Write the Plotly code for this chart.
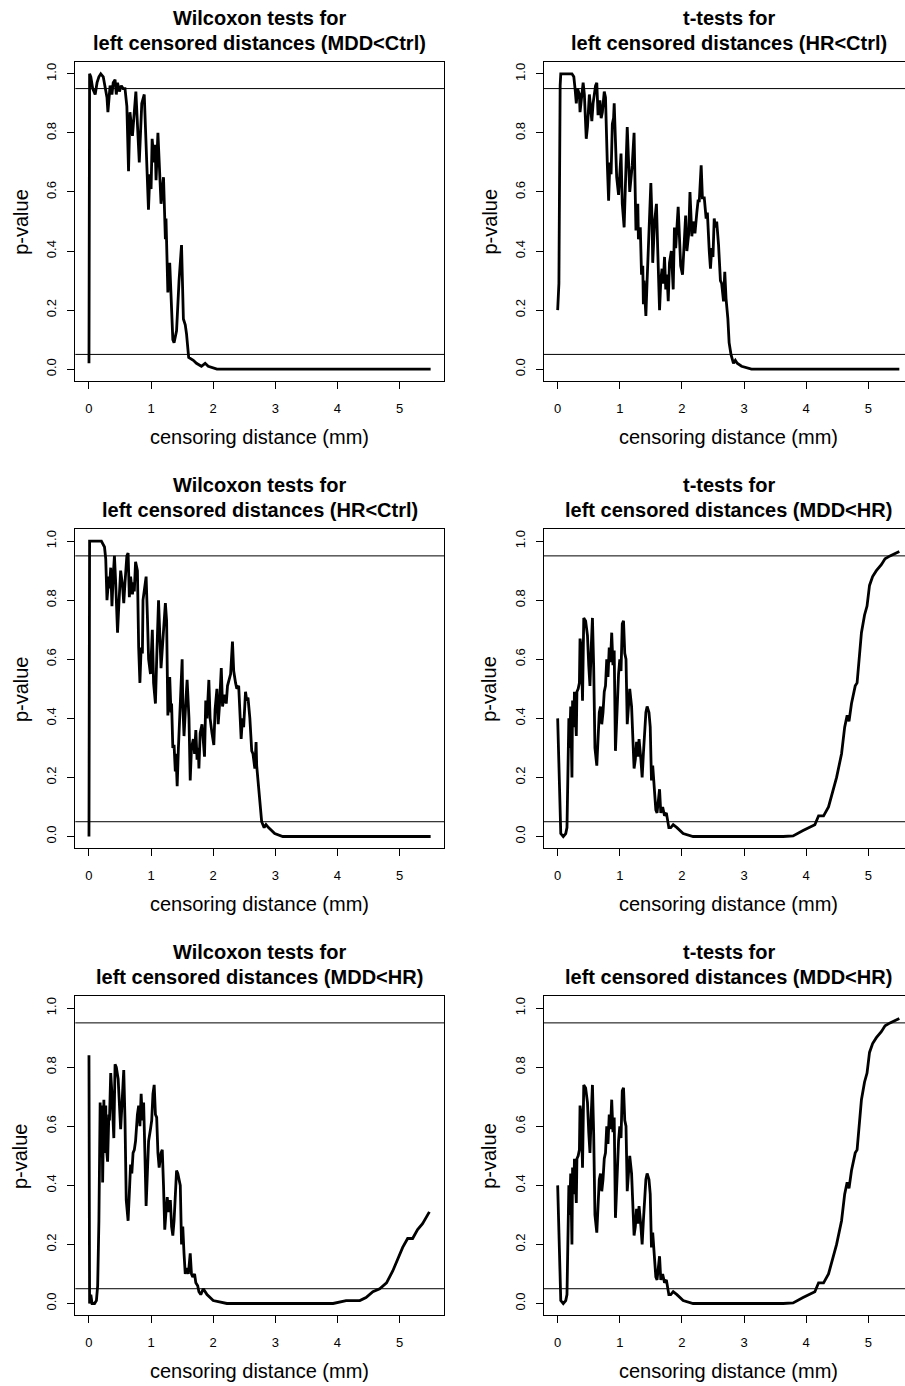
import plotly.graph_objects as go

# ---------------- data ----------------
# Panel A: Wilcoxon tests, MDD<Ctrl
wil_mdd_ctrl_x = [0.00, 0.01, 0.03, 0.06, 0.10, 0.13, 0.16, 0.19, 0.23, 0.27, 0.29, 0.305, 0.34, 0.37,
                  0.39, 0.42, 0.44, 0.46, 0.49, 0.52, 0.55, 0.58, 0.61, 0.637, 0.66, 0.70, 0.755, 0.81,
                  0.85, 0.89, 0.91, 0.93, 0.958, 0.98, 1.00, 1.017, 1.05, 1.065, 1.08, 1.11, 1.16, 1.20,
                  1.23, 1.24, 1.27, 1.30, 1.32, 1.35, 1.37, 1.41, 1.45, 1.49, 1.52, 1.55, 1.57, 1.605,
                  1.68, 1.73, 1.81, 1.87, 1.92, 2.06, 5.50]
wil_mdd_ctrl_y = [0.02, 1.00, 0.99, 0.95, 0.93, 0.97, 0.99, 1.00, 0.99, 0.95, 0.92, 0.87, 0.96, 0.93,
                  0.97, 0.98, 0.93, 0.97, 0.94, 0.96, 0.95, 0.95, 0.89, 0.67, 0.87, 0.79, 0.94, 0.70,
                  0.90, 0.93, 0.80, 0.66, 0.54, 0.66, 0.61, 0.78, 0.70, 0.76, 0.64, 0.80, 0.56, 0.65,
                  0.44, 0.51, 0.26, 0.36, 0.25, 0.10, 0.09, 0.13, 0.30, 0.42, 0.17, 0.15, 0.12, 0.04,
                  0.03, 0.02, 0.01, 0.02, 0.01, 0.00, 0.00]

# Panel B: t-tests, HR<Ctrl
t_hr_ctrl_x = [0.00, 0.02, 0.04, 0.05, 0.23, 0.26, 0.28, 0.30, 0.32, 0.35, 0.36, 0.41, 0.43, 0.46,
               0.48, 0.51, 0.55, 0.57, 0.61, 0.63, 0.65, 0.68, 0.70, 0.72, 0.75, 0.77, 0.80, 0.82,
               0.84, 0.86, 0.88, 0.90, 0.91, 0.93, 0.95, 0.98, 1.02, 1.04, 1.07, 1.09, 1.12, 1.16,
               1.20, 1.23, 1.26, 1.29, 1.30, 1.33, 1.35, 1.37, 1.38, 1.39, 1.42, 1.44, 1.46, 1.48,
               1.50, 1.52, 1.53, 1.56, 1.59, 1.61, 1.64, 1.66, 1.68, 1.70, 1.72, 1.74, 1.76, 1.78,
               1.80, 1.83, 1.85, 1.86, 1.88, 1.90, 1.94, 1.96, 1.98, 2.01, 2.04, 2.06, 2.08, 2.11,
               2.13, 2.16, 2.18, 2.21, 2.24, 2.26, 2.28, 2.31, 2.33, 2.36, 2.39, 2.41, 2.44, 2.46,
               2.48, 2.50, 2.52, 2.54, 2.56, 2.59, 2.62, 2.64, 2.67, 2.69, 2.71, 2.74, 2.76, 2.79,
               2.83, 2.86, 2.89, 2.96, 3.12, 5.50]
t_hr_ctrl_y = [0.20, 0.29, 0.96, 1.00, 1.00, 0.99, 0.95, 0.90, 0.95, 0.93, 0.87, 0.97, 0.93, 0.78,
               0.82, 0.93, 0.84, 0.90, 0.96, 0.97, 0.86, 0.91, 0.85, 0.87, 0.94, 0.92, 0.69, 0.57,
               0.70, 0.66, 0.83, 0.85, 0.90, 0.80, 0.65, 0.59, 0.73, 0.56, 0.48, 0.62, 0.82, 0.60,
               0.69, 0.80, 0.47, 0.56, 0.44, 0.48, 0.32, 0.35, 0.22, 0.30, 0.18, 0.30, 0.40, 0.52,
               0.63, 0.50, 0.36, 0.50, 0.56, 0.41, 0.20, 0.30, 0.34, 0.29, 0.38, 0.27, 0.32, 0.23,
               0.36, 0.40, 0.32, 0.27, 0.48, 0.41, 0.55, 0.42, 0.35, 0.32, 0.42, 0.52, 0.40, 0.46,
               0.60, 0.45, 0.50, 0.46, 0.53, 0.57, 0.57, 0.69, 0.58, 0.58, 0.51, 0.53, 0.40, 0.34,
               0.41, 0.38, 0.51, 0.48, 0.50, 0.42, 0.30, 0.29, 0.23, 0.33, 0.24, 0.17, 0.09, 0.05,
               0.02, 0.03, 0.02, 0.01, 0.00, 0.00]

# Panel C: Wilcoxon tests, HR<Ctrl
wil_hr_ctrl_x = [0.00, 0.01, 0.20, 0.25, 0.27, 0.29, 0.32, 0.33, 0.35, 0.37, 0.39, 0.41, 0.43, 0.46,
                 0.48, 0.51, 0.54, 0.56, 0.58, 0.61, 0.63, 0.65, 0.67, 0.70, 0.72, 0.73, 0.75, 0.78,
                 0.80, 0.82, 0.84, 0.86, 0.87, 0.89, 0.92, 0.94, 0.96, 0.99, 1.02, 1.04, 1.07, 1.09,
                 1.12, 1.16, 1.19, 1.23, 1.25, 1.27, 1.30, 1.32, 1.33, 1.35, 1.37, 1.39, 1.40, 1.42,
                 1.44, 1.46, 1.48, 1.50, 1.51, 1.53, 1.56, 1.58, 1.61, 1.63, 1.65, 1.68, 1.70, 1.72,
                 1.74, 1.76, 1.77, 1.79, 1.82, 1.84, 1.86, 1.88, 1.90, 1.93, 1.95, 1.98, 2.01, 2.03,
                 2.06, 2.08, 2.10, 2.13, 2.15, 2.18, 2.21, 2.23, 2.26, 2.28, 2.31, 2.33, 2.36, 2.38,
                 2.41, 2.44, 2.45, 2.47, 2.49, 2.52, 2.54, 2.56, 2.59, 2.62, 2.64, 2.67, 2.69, 2.70,
                 2.73, 2.76, 2.78, 2.82, 2.85, 2.89, 2.99, 3.12, 5.50]
wil_hr_ctrl_y = [0.00, 1.00, 1.00, 0.98, 0.94, 0.80, 0.88, 0.84, 0.91, 0.78, 0.88, 0.95, 0.86, 0.69,
                 0.78, 0.90, 0.85, 0.79, 0.86, 0.95, 0.96, 0.81, 0.88, 0.82, 0.86, 0.83, 0.93, 0.90,
                 0.64, 0.52, 0.64, 0.62, 0.80, 0.83, 0.88, 0.75, 0.60, 0.55, 0.70, 0.52, 0.45, 0.60,
                 0.80, 0.57, 0.67, 0.79, 0.73, 0.41, 0.54, 0.42, 0.45, 0.30, 0.31, 0.22, 0.28, 0.17,
                 0.30, 0.40, 0.51, 0.60, 0.45, 0.34, 0.46, 0.53, 0.40, 0.19, 0.30, 0.33, 0.28, 0.36,
                 0.26, 0.30, 0.23, 0.35, 0.38, 0.31, 0.27, 0.46, 0.40, 0.53, 0.40, 0.35, 0.31, 0.43,
                 0.50, 0.38, 0.44, 0.57, 0.44, 0.48, 0.45, 0.51, 0.54, 0.55, 0.66, 0.56, 0.52, 0.50,
                 0.51, 0.37, 0.33, 0.40, 0.37, 0.49, 0.46, 0.47, 0.40, 0.29, 0.28, 0.23, 0.32, 0.24,
                 0.17, 0.10, 0.05, 0.03, 0.04, 0.03, 0.01, 0.00, 0.00]

# Panel D (and F): t-tests, MDD<HR
t_mdd_hr_x = [0.00, 0.02, 0.04, 0.05, 0.09, 0.13, 0.15, 0.16, 0.18, 0.19, 0.21, 0.23, 0.24, 0.26,
              0.27, 0.30, 0.31, 0.33, 0.35, 0.36, 0.38, 0.40, 0.42, 0.45, 0.48, 0.50, 0.52, 0.54,
              0.56, 0.58, 0.60, 0.63, 0.64, 0.67, 0.69, 0.71, 0.73, 0.75, 0.77, 0.79, 0.81, 0.83,
              0.85, 0.87, 0.89, 0.91, 0.93, 0.95, 0.98, 1.00, 1.02, 1.04, 1.06, 1.08, 1.10, 1.12,
              1.14, 1.16, 1.19, 1.21, 1.23, 1.25, 1.27, 1.29, 1.31, 1.34, 1.36, 1.38, 1.40, 1.42,
              1.44, 1.47, 1.49, 1.51, 1.53, 1.56, 1.58, 1.60, 1.64, 1.66, 1.69, 1.72, 1.75, 1.79,
              1.82, 1.86, 1.92, 2.02, 2.18, 3.63, 3.79, 3.95, 4.06, 4.14, 4.20, 4.28, 4.36, 4.41,
              4.49, 4.57, 4.62, 4.66, 4.69, 4.73, 4.79, 4.82, 4.86, 4.89, 4.94, 4.98, 5.02, 5.07,
              5.13, 5.21, 5.27, 5.35, 5.50]
t_mdd_hr_y = [0.40, 0.20, 0.02, 0.01, 0.00, 0.01, 0.03, 0.15, 0.40, 0.30, 0.44, 0.20, 0.46, 0.37,
              0.49, 0.34, 0.49, 0.50, 0.52, 0.67, 0.64, 0.46, 0.74, 0.73, 0.68, 0.58, 0.51, 0.64,
              0.74, 0.57, 0.30, 0.24, 0.30, 0.42, 0.44, 0.38, 0.42, 0.49, 0.51, 0.60, 0.54, 0.64,
              0.59, 0.69, 0.58, 0.63, 0.29, 0.40, 0.55, 0.60, 0.56, 0.72, 0.73, 0.62, 0.60, 0.38,
              0.44, 0.50, 0.44, 0.30, 0.23, 0.26, 0.32, 0.27, 0.33, 0.26, 0.20, 0.28, 0.35, 0.42,
              0.44, 0.42, 0.37, 0.19, 0.24, 0.15, 0.09, 0.08, 0.16, 0.08, 0.10, 0.07, 0.08, 0.03,
              0.03, 0.04, 0.03, 0.01, 0.00, 0.00, 0.002, 0.02, 0.03, 0.04, 0.07, 0.07, 0.10, 0.14,
              0.20, 0.28, 0.37, 0.41, 0.39, 0.45, 0.51, 0.52, 0.62, 0.69, 0.75, 0.78, 0.85, 0.88,
              0.90, 0.92, 0.94, 0.95, 0.965]

# Panel E: Wilcoxon tests, MDD<HR
wil_mdd_hr_x = [0.00, 0.01, 0.03, 0.05, 0.09, 0.12, 0.14, 0.16, 0.18, 0.19, 0.21, 0.22, 0.24, 0.25,
                0.27, 0.28, 0.30, 0.32, 0.33, 0.35, 0.37, 0.40, 0.42, 0.44, 0.47, 0.49, 0.51, 0.54,
                0.56, 0.58, 0.60, 0.63, 0.65, 0.67, 0.69, 0.71, 0.73, 0.75, 0.78, 0.80, 0.82, 0.84,
                0.86, 0.88, 0.90, 0.92, 0.94, 0.96, 0.99, 1.01, 1.03, 1.05, 1.07, 1.09, 1.11, 1.13,
                1.16, 1.18, 1.20, 1.22, 1.24, 1.26, 1.28, 1.31, 1.33, 1.35, 1.37, 1.39, 1.41, 1.43,
                1.47, 1.49, 1.51, 1.53, 1.55, 1.57, 1.60, 1.63, 1.65, 1.67, 1.70, 1.72, 1.75, 1.77,
                1.80, 1.84, 1.90, 2.00, 2.22, 3.72, 3.93, 4.14, 4.36, 4.46, 4.57, 4.68, 4.79, 4.89,
                4.97, 5.05, 5.13, 5.21, 5.29, 5.37, 5.48]
wil_mdd_hr_y = [0.84, 0.00, 0.03, 0.00, 0.00, 0.01, 0.06, 0.28, 0.68, 0.51, 0.67, 0.41, 0.69, 0.51,
                0.67, 0.53, 0.48, 0.64, 0.62, 0.78, 0.71, 0.56, 0.81, 0.80, 0.76, 0.67, 0.59, 0.71,
                0.79, 0.62, 0.35, 0.28, 0.40, 0.47, 0.44, 0.51, 0.52, 0.55, 0.64, 0.67, 0.60, 0.71,
                0.62, 0.68, 0.51, 0.33, 0.44, 0.55, 0.59, 0.62, 0.71, 0.74, 0.64, 0.63, 0.51, 0.46,
                0.51, 0.52, 0.40, 0.25, 0.31, 0.36, 0.31, 0.35, 0.26, 0.23, 0.28, 0.40, 0.45, 0.44,
                0.40, 0.20, 0.26, 0.17, 0.10, 0.12, 0.10, 0.17, 0.10, 0.09, 0.10, 0.07, 0.06, 0.04,
                0.03, 0.05, 0.03, 0.01, 0.00, 0.00, 0.00, 0.01, 0.01, 0.02, 0.04, 0.05, 0.07, 0.11,
                0.15, 0.19, 0.22, 0.22, 0.25, 0.27, 0.31]

titles_line1 = ["Wilcoxon tests for", "t-tests for", "Wilcoxon tests for",
                "t-tests for", "Wilcoxon tests for", "t-tests for"]
titles_line2 = ["left censored distances (MDD<Ctrl)", "left censored distances (HR<Ctrl)",
                "left censored distances (HR<Ctrl)", "left censored distances (MDD<HR)",
                "left censored distances (MDD<HR)", "left censored distances (MDD<HR)"]
series_x = [wil_mdd_ctrl_x, t_hr_ctrl_x, wil_hr_ctrl_x, t_mdd_hr_x, wil_mdd_hr_x, t_mdd_hr_x]
series_y = [wil_mdd_ctrl_y, t_hr_ctrl_y, wil_hr_ctrl_y, t_mdd_hr_y, wil_mdd_hr_y, t_mdd_hr_y]

x_ticks = [0, 1, 2, 3, 4, 5]
y_ticks = [0.0, 0.2, 0.4, 0.6, 0.8, 1.0]
ref_lines = [0.05, 0.95]
x_title = "censoring distance (mm)"
y_title = "p-value"

# ---------------- layout ----------------
W, H = 905, 1386
FONT = "Liberation Sans, Arial, Helvetica, sans-serif"
col_px = [(75.3, 444.3), (544.0, 913.0)]     # full plot-box extents (right one clipped by page)
row_top = [62.0, 529.3, 996.3]
row_h = 319.0
XR = (-0.22, 5.72)

fig = go.Figure()
annotations = []
shapes = []
layout = dict(width=W, height=H, margin=dict(l=0, r=0, t=0, b=0),
              paper_bgcolor="white", plot_bgcolor="white", showlegend=False,
              font=dict(family=FONT, color="black"))

for i in range(6):
    r, c = divmod(i, 2)
    n = "" if i == 0 else str(i + 1)
    xa, ya = "x" + n, "y" + n
    L, R = col_px[c]
    Rv = min(R, W)
    xmax = XR[0] + (XR[1] - XR[0]) * (Rv - L) / (R - L)
    top = row_top[r]
    bot = top + row_h
    fig.add_trace(go.Scatter(x=series_x[i], y=series_y[i], mode="lines",
                             line=dict(color="black", width=2.8),
                             xaxis=xa, yaxis=ya, hoverinfo="skip"))
    layout["xaxis" + n] = dict(domain=[L / W, Rv / W], range=[XR[0], xmax], anchor=ya,
                               showgrid=False, zeroline=False, showline=True, mirror=True,
                               linecolor="black", linewidth=1, ticks="outside", ticklen=7,
                               tickwidth=1, tickcolor="black", tickvals=x_ticks,
                               tickfont=dict(size=13, family=FONT, color="black"),
                               ticklabelstandoff=8)
    layout["yaxis" + n] = dict(domain=[1 - bot / H, 1 - top / H], range=[-0.04, 1.04], anchor=xa,
                               showgrid=False, zeroline=False, showline=True,
                               mirror=(c == 0), linecolor="black", linewidth=1,
                               ticks="outside", ticklen=7, tickwidth=1, tickcolor="black",
                               tickvals=y_ticks, tickformat=".1f", tickangle=-90,
                               tickfont=dict(size=13, family=FONT, color="black"),
                               ticklabelstandoff=6)
    for v in ref_lines:
        shapes.append(dict(type="line", xref=xa + " domain", x0=0, x1=1, yref=ya, y0=v, y1=v,
                           line=dict(color="black", width=1)))
    cx = (L + R) / 2
    annotations.append(dict(text="<b>%s</b>" % titles_line1[i], x=cx / W, y=1 - (top - 44) / H,
                            xref="paper", yref="paper", showarrow=False, xanchor="center",
                            yanchor="middle", font=dict(size=20, family=FONT, color="black")))
    annotations.append(dict(text="<b>%s</b>" % titles_line2[i], x=cx / W, y=1 - (top - 19) / H,
                            xref="paper", yref="paper", showarrow=False, xanchor="center",
                            yanchor="middle", font=dict(size=20, family=FONT, color="black")))
    annotations.append(dict(text=x_title, x=cx / W, y=1 - (bot + 56) / H, xref="paper",
                            yref="paper", showarrow=False, xanchor="center", yanchor="middle",
                            font=dict(size=20, family=FONT, color="black")))
    annotations.append(dict(text=y_title, x=(L - 55) / W, y=1 - (top + row_h / 2) / H,
                            xref="paper", yref="paper", showarrow=False, xanchor="center",
                            yanchor="middle", textangle=-90,
                            font=dict(size=20, family=FONT, color="black")))

layout["annotations"] = annotations
layout["shapes"] = shapes
fig.update_layout(**layout)
fig.write_html("out.html")
